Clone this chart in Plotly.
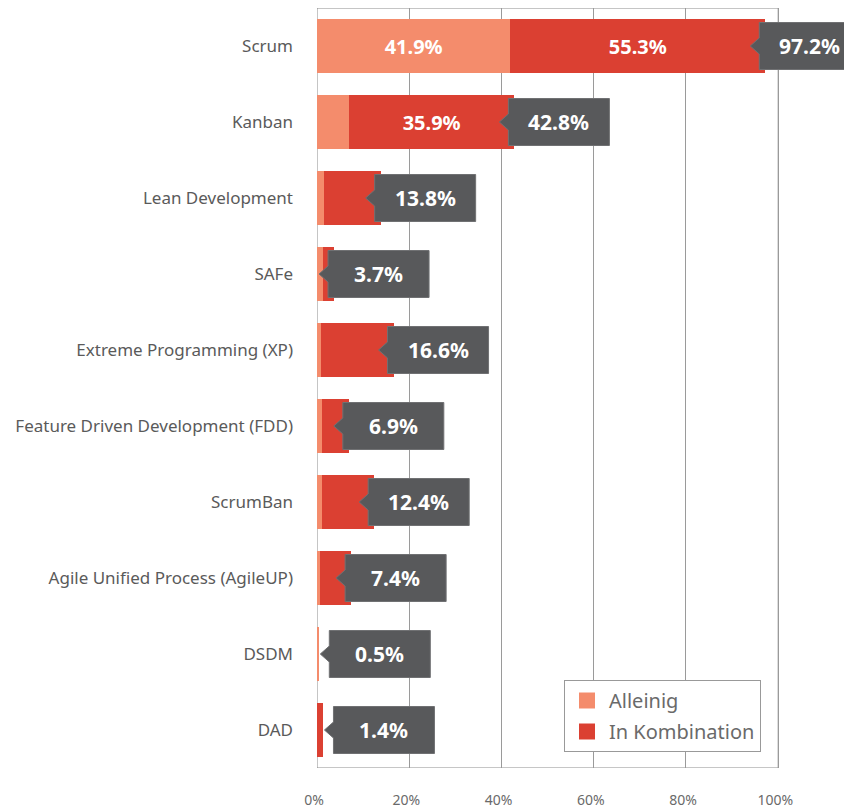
import plotly.graph_objects as go

categories = ["Scrum", "Kanban", "Lean Development", "SAFe", "Extreme Programming (XP)",
              "Feature Driven Development (FDD)", "ScrumBan", "Agile Unified Process (AgileUP)",
              "DSDM", "DAD"]
alleinig = [41.9, 6.9, 1.5, 1.3, 0.9, 1.1, 1.0, 0.7, 0.5, 0.0]
kombination = [55.3, 35.9, 12.3, 2.4, 15.7, 5.8, 11.4, 6.7, 0.0, 1.4]
totals = [97.2, 42.8, 13.8, 3.7, 16.6, 6.9, 12.4, 7.4, 0.5, 1.4]
x_ticks = [0, 20, 40, 60, 80, 100]
x_ticklabels = ["0%", "20%", "40%", "60%", "80%", "100%"]

C_ALLEIN = "#F48C6C"
C_KOMBI = "#DB4032"
C_BOX = "#58595B"
FONT = "Noto Sans"

idx = list(range(len(categories)))
LABEL_MIN = 20  # only label segments wide enough

def seg_text(vals):
    return [f"{v:.1f}%" if v >= LABEL_MIN else "" for v in vals]

fig = go.Figure()
for name, vals, col in [("Alleinig", alleinig, C_ALLEIN), ("In Kombination", kombination, C_KOMBI)]:
    fig.add_trace(go.Bar(y=idx, x=vals, orientation="h", name=name, showlegend=False,
                         marker=dict(color=col, line=dict(width=0)),
                         text=seg_text(vals), textposition="inside", insidetextanchor="middle",
                         textfont=dict(color="white", size=20, family=FONT, weight="bold"),
                         width=0.72, hoverinfo="skip"))
# legend entries (larger square swatches)
for name, col in [("Alleinig", C_ALLEIN), ("In Kombination", C_KOMBI)]:
    fig.add_trace(go.Scatter(x=[None], y=[None], mode="markers", name=name, legendgroup=name,
                             marker=dict(symbol="square", size=16, color=col), hoverinfo="skip"))

FIG_W, FIG_H = 844, 803
M_L, M_T, M_B = 309, 0, 43
X_MAX = 116
plot_w = FIG_W - M_L
plot_h = FIG_H - M_T - M_B
ux = X_MAX / plot_w      # data units per pixel on x
uy = len(categories) / plot_h

shapes = []
shapes.append(dict(type="rect", xref="x", yref="y", x0=0, x1=100, y0=-0.5, y1=9.5,
                   line=dict(color="#8c8c8c", width=1), fillcolor="rgba(0,0,0,0)", layer="below"))
annotations = []
BOX_W = 101 * ux
ARROW_W = 9 * ux
BOX_H = 47 * uy / 2
ARROW_H = 8 * uy
for i, t in enumerate(totals):
    tip = t - 15 * ux
    if tip <= 0:
        tip = t + 1 * ux
    left = tip + ARROW_W
    right = left + BOX_W
    yc = i
    path = (f"M {tip},{yc} L {left},{yc - ARROW_H} L {left},{yc - BOX_H} L {right},{yc - BOX_H} "
            f"L {right},{yc + BOX_H} L {left},{yc + BOX_H} L {left},{yc + ARROW_H} Z")
    shapes.append(dict(type="path", xref="x", yref="y", path=path, fillcolor=C_BOX,
                       line=dict(color="#707173", width=1), layer="above"))
    annotations.append(dict(x=(left + right) / 2, y=yc, xref="x", yref="y", text=f"{t:.1f}%",
                            showarrow=False, font=dict(color="white", size=21, family=FONT, weight="bold"),
                            xanchor="center", yanchor="middle"))

fig.update_layout(
    width=FIG_W, height=FIG_H,
    margin=dict(l=M_L, r=0, t=M_T, b=M_B),
    plot_bgcolor="white", paper_bgcolor="white",
    barmode="stack", bargap=0.28,
    shapes=shapes, annotations=annotations,
    font=dict(family=FONT, color="#5a5a5a"),
    legend=dict(x=(556 - M_L) / plot_w, y=(760 - 672) / plot_h, xanchor="left", yanchor="top",
                bordercolor="#999999", borderwidth=1, bgcolor="white",
                font=dict(size=20, color="#6a6a6a", family=FONT),
                traceorder="grouped", tracegroupgap=2, itemwidth=34),
    showlegend=True,
)
fig.update_xaxes(range=[0, X_MAX], tickvals=x_ticks, ticktext=x_ticklabels,
                 showgrid=True, gridcolor="#9a9a9a", gridwidth=1, zeroline=False,
                 showline=False, ticks="", ticklabelstandoff=22, ticklabelshift=-3,
                 tickfont=dict(size=14, color="#6a6a6a", family=FONT), fixedrange=True)
fig.update_yaxes(range=[9.5, -0.5], tickvals=idx, ticktext=categories,
                 showgrid=False, zeroline=False, showline=False, ticks="",
                 ticklabelstandoff=23, tickfont=dict(size=17, color="#5a5a5a", family=FONT),
                 fixedrange=True)

fig.write_html("out.html")
